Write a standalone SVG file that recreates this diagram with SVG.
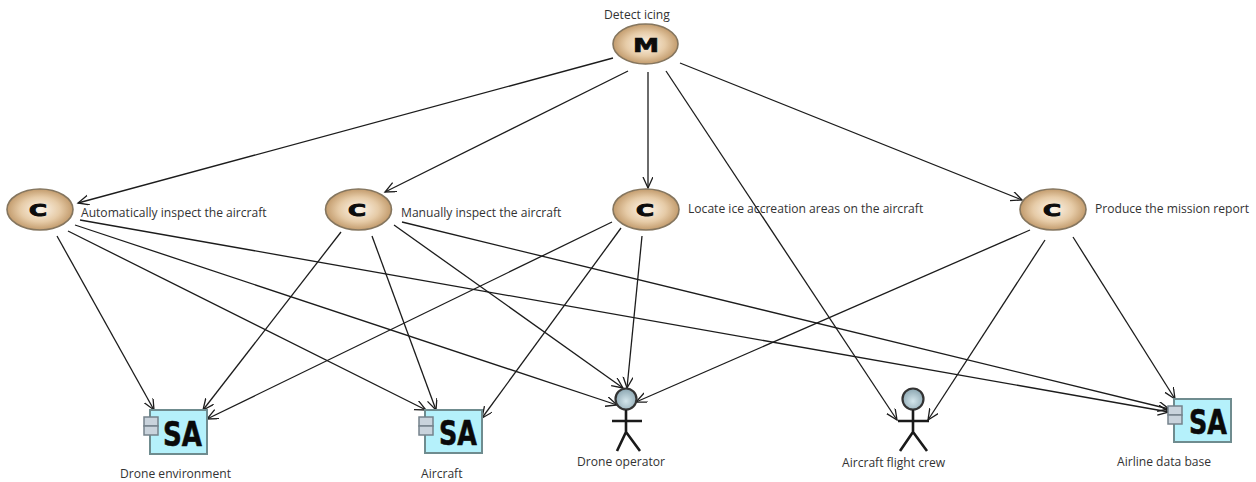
<svg xmlns="http://www.w3.org/2000/svg" width="1256" height="482" viewBox="0 0 1256 482">
<style>
text{font-family:"Open Sans","Noto Sans",sans-serif;font-size:12.1px;fill:#333}
.c{fill:none;stroke:#1c1c1c;stroke-width:1.3;marker-end:url(#a)}
.e{fill:url(#g);stroke:#85765f;stroke-width:1.6}
text.m{font-family:"DejaVu Sans",sans-serif;font-weight:bold;font-size:19px;fill:#0c0c0c;stroke:#0c0c0c;stroke-width:.7}
text.k{font-family:"DejaVu Sans",sans-serif;font-weight:bold;font-size:16px;fill:#0c0c0c;stroke:#0c0c0c;stroke-width:.9}
.box{fill:#b5f1fb;stroke:#6f8c8f;stroke-width:2}
.port{fill:#c9d3dc;stroke:#75838c;stroke-width:1.5}
text.sa{font-family:"DejaVu Sans",sans-serif;font-weight:bold;font-size:33px;fill:#0a0a0a;stroke:#0a0a0a;stroke-width:.6}
.head{fill:url(#h);stroke:#333;stroke-width:2.2}
.st{fill:none;stroke:#1a1a1a;stroke-width:2.6}
</style>
<defs>
<marker id="a" markerWidth="14" markerHeight="12" refX="11" refY="5" orient="auto" markerUnits="userSpaceOnUse"><path d="M0 0L11 5L0 10" fill="none" stroke="#1c1c1c" stroke-width="1.3"/></marker>
<radialGradient id="g" cx=".5" cy=".5" r=".55"><stop offset="0" stop-color="#fdf6ec"/><stop offset=".55" stop-color="#e6cba7"/><stop offset="1" stop-color="#b98f5e"/></radialGradient>
<radialGradient id="h" cx=".5" cy=".6" r=".6"><stop offset="0" stop-color="#d4e6ec"/><stop offset="1" stop-color="#8aa5b0"/></radialGradient>
</defs>
<g id="connectors">
<path class="c" d="M613 58L78 203"/>
<path class="c" d="M628 71L385 192"/>
<path class="c" d="M648 72V188"/>
<path class="c" d="M666 71L897 420"/>
<path class="c" d="M680 63L1022 200"/>
<path class="c" d="M57 236L154 410"/>
<path class="c" d="M68 231L426 410"/>
<path class="c" d="M75 225L617 405"/>
<path class="c" d="M80 220L1169 412"/>
<path class="c" d="M341 232L203 410"/>
<path class="c" d="M372 236L436 410"/>
<path class="c" d="M394 225L623 388"/>
<path class="c" d="M402 222L1169 409"/>
<path class="c" d="M612 222L207 419"/>
<path class="c" d="M621 228L482 418"/>
<path class="c" d="M642 236L627 388"/>
<path class="c" d="M1030 230L636 402"/>
<path class="c" d="M1045 240L928 420"/>
<path class="c" d="M1073 237L1175 399"/>
</g>
<g id="n-detect"><ellipse class="e" cx="645.500" cy="44" rx="32.500" ry="20"/><text class="m" x="633" y="52" textLength="26" lengthAdjust="spacingAndGlyphs">M</text><text x="604" y="19">Detect icing</text></g>
<g id="n-auto"><ellipse class="e" cx="40" cy="209.500" rx="33" ry="20.500"/><text class="k" x="29" y="216" textLength="18" lengthAdjust="spacingAndGlyphs">C</text><text x="81" y="217">Automatically inspect the aircraft</text></g>
<g id="n-manual"><ellipse class="e" cx="358.500" cy="209.500" rx="33" ry="20.500"/><text class="k" x="348" y="216" textLength="18" lengthAdjust="spacingAndGlyphs">C</text><text x="401" y="217">Manually inspect the aircraft</text></g>
<g id="n-locate"><ellipse class="e" cx="646" cy="209.500" rx="33" ry="20.500"/><text class="k" x="636" y="216" textLength="18" lengthAdjust="spacingAndGlyphs">C</text><text x="688" y="213">Locate ice accreation areas on the aircraft</text></g>
<g id="n-report"><ellipse class="e" cx="1053" cy="209.500" rx="33" ry="20.500"/><text class="k" x="1043" y="216" textLength="18" lengthAdjust="spacingAndGlyphs">C</text><text x="1095" y="213">Produce the mission report</text></g>
<g id="n-env"><rect class="box" x="150" y="410" width="57" height="44"/><rect class="port" x="144" y="417" width="14" height="9"/><rect class="port" x="144" y="426" width="14" height="9"/><text class="sa" x="163" y="446" textLength="39" lengthAdjust="spacingAndGlyphs">SA</text><text x="120" y="478">Drone environment</text></g>
<g id="n-aircraft"><rect class="box" x="425" y="410" width="57" height="43"/><rect class="port" x="419" y="417" width="14" height="9"/><rect class="port" x="419" y="426" width="14" height="9"/><text class="sa" x="439" y="445" textLength="38" lengthAdjust="spacingAndGlyphs">SA</text><text x="421" y="478">Aircraft</text></g>
<g id="n-operator"><circle class="head" cx="626" cy="399" r="10.500"/><path class="st" d="M626 410V432M612 421H642M617 451L626 432L640 451"/><text x="577" y="466">Drone operator</text></g>
<g id="n-crew"><circle class="head" cx="913" cy="399" r="10.500"/><path class="st" d="M913 410V432M898 421H929M900 451L913 432L927 451"/><text x="842" y="467">Aircraft flight crew</text></g>
<g id="n-db"><rect class="box" x="1174" y="399" width="57" height="43"/><rect class="port" x="1168" y="406" width="14" height="9"/><rect class="port" x="1168" y="415" width="14" height="9"/><text class="sa" x="1189" y="434" textLength="38" lengthAdjust="spacingAndGlyphs">SA</text><text x="1117" y="466">Airline data base</text></g>
</svg>
